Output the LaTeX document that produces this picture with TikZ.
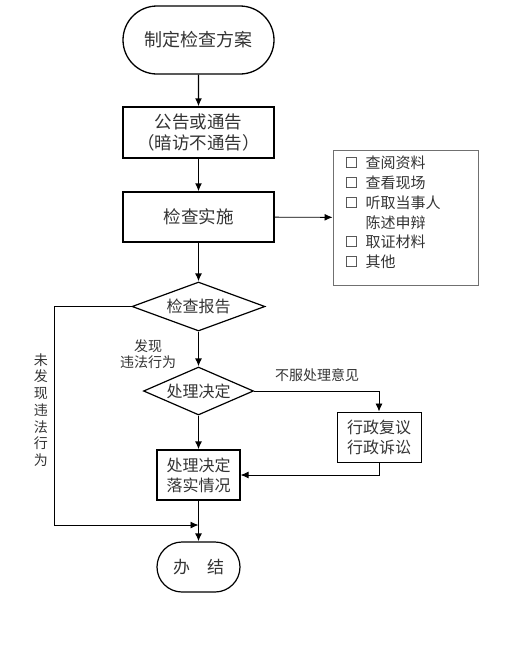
\documentclass[tikz,border=0pt]{standalone}
\usepackage{fontspec}
\setmainfont{Noto Sans CJK SC}
\newfontfamily\symfont{DejaVu Sans}
\usetikzlibrary{shapes.geometric,shapes.misc,arrows.meta}
\definecolor{inkgray}{HTML}{333333}
\definecolor{edgegray}{HTML}{707070}
\tikzset{
  term/.style={draw,line width=1.3pt,rounded rectangle,inner sep=0pt,
    text=inkgray,font=\fontsize{18}{20}\selectfont},
  proc/.style={draw,line width=1.3pt,rectangle,inner sep=0pt,align=center,
    text=inkgray,font=\fontsize{17.5}{21}\selectfont},
  dec/.style={draw,line width=1.2pt,diamond,inner sep=0pt,
    text=inkgray,font=\fontsize{16}{18}\selectfont},
  flow/.style={line width=1.4pt,-{Latex[length=8pt,width=7pt]}},
  side/.style={line width=0.9pt,-{Latex[length=8pt,width=7pt]}},
  lbl/.style={text=inkgray,font=\fontsize{14}{16}\selectfont,inner sep=0pt}
}
\begin{document}
\begin{tikzpicture}[x=1pt,y=-1pt]
  \useasboundingbox (0,0) rectangle (512,649);
  % main column
  \node[term,minimum width=151,minimum height=68] (plan) at (198.5,40) {制定检查方案};
  \node[proc,minimum width=151,minimum height=51] (notice) at (198.5,132.5) {公告或通告\\（暗访不通告）};
  \node[proc,minimum width=151,minimum height=50] (inspect) at (198.5,217) {检查实施};
  \node[dec,aspect=2.7,minimum width=133,minimum height=49] (report) at (198.5,306.5) {检查报告};
  \node[dec,aspect=2.3,minimum width=110,minimum height=48] (decide) at (198.5,391) {处理决定};
  \node[proc,line width=1.2pt,minimum width=83,minimum height=50,font=\fontsize{16}{20}\selectfont] (carry) at (198.5,475) {处理决定\\落实情况};
  \node[term,line width=1.2pt,minimum width=83,minimum height=50,font=\fontsize{17}{20}\selectfont] (finish) at (198.5,567) {办\hspace{1em}结};
  % side boxes
  \node[draw=edgegray,line width=0.9pt,minimum width=145,minimum height=135,inner sep=0pt] (checks) at (405.5,217.5) {};
  \node[lbl,anchor=west,align=left,font=\fontsize{15}{19.8}\selectfont] (checklist) at ([xshift=12,yshift=5]checks.west)
    {{\symfont ☐}\hspace{0.5em}查阅资料\\{\symfont ☐}\hspace{0.5em}查看现场\\{\symfont ☐}\hspace{0.5em}听取当事人\\\phantom{{\symfont ☐}}\hspace{0.5em}陈述申辩\\{\symfont ☐}\hspace{0.5em}取证材料\\{\symfont ☐}\hspace{0.5em}其他};
  \node[draw,line width=1pt,minimum width=84,minimum height=50,inner sep=0pt,align=center,
    text=inkgray,font=\fontsize{16}{20}\selectfont] (review) at (379,437) {行政复议\\行政诉讼};
  % labels
  \node[lbl,align=center] (found) at (148,354) {发现\\违法行为};
  \node[lbl] (refuse) at (317,375) {不服处理意见};
  \node[lbl,align=center,font=\fontsize{14}{16.7}\selectfont] (notfound) at (41,410) {未\\发\\现\\违\\法\\行\\为};
  % connectors
  \draw[flow] (plan) -- (notice);
  \draw[flow] (notice) -- (inspect);
  \draw[side] (inspect) -- (checks);
  \draw[flow] (inspect) -- (report);
  \draw[flow] (report) -- (decide);
  \draw[flow] (decide) -- (carry);
  \draw[flow] (carry) -- (finish);
  \draw[side] (decide.east) -| (review.north);
  \draw[side] (review.south) |- (carry.east);
  \coordinate (loop) at (54,525);
  \draw[side] (report.west) -| (loop) -- (loop -| finish.north);
\end{tikzpicture}
\end{document}
